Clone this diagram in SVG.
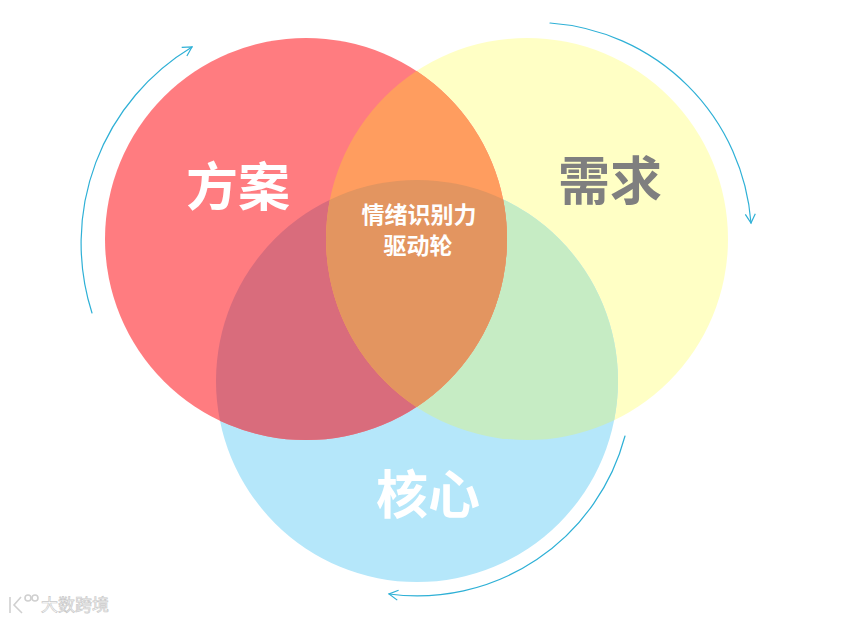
<svg xmlns="http://www.w3.org/2000/svg" width="841" height="621" viewBox="0 0 841 621">
<style>
text{font-family:"Noto Sans CJK SC","Liberation Sans",sans-serif;font-weight:700;text-anchor:middle}
.big{font-size:52px;fill:#fff}
.mid{font-size:23px;fill:#fff}
.arc{fill:none;stroke:#2eb0d6;stroke-width:1.2;stroke-linecap:round;stroke-linejoin:round}
.wm{font-size:17px;font-weight:400;fill:#fff;stroke:#c9c9c9;stroke-width:.7px;text-anchor:start}
.logo{fill:none;stroke:#d0d0d0;stroke-width:1.6}
</style>
<defs>
<marker id="ah" viewBox="0 0 12 12" refX="10" refY="6" markerWidth="12" markerHeight="12" markerUnits="userSpaceOnUse" orient="auto"><path d="M1 1L10 6L1 11" fill="none" stroke="#2eb0d6" stroke-width="1.2"/></marker>
<clipPath id="cr"><circle cx="306" cy="239" r="201"/></clipPath>
<clipPath id="cy"><circle cx="527" cy="239" r="201"/></clipPath>
<clipPath id="cb"><circle cx="417" cy="381" r="201"/></clipPath>
</defs>
<rect width="841" height="621" fill="#fff"/>
<g id="node-yellow"><circle cx="527" cy="239" r="201" fill="#FFFFC5"/></g>
<g id="node-blue"><circle cx="417" cy="381" r="201" fill="#B5E7FA"/></g>
<g id="node-red"><circle cx="306" cy="239" r="201" fill="#FF7C80"/></g>
<g id="overlaps">
<g clip-path="url(#cy)"><circle cx="417" cy="381" r="201" fill="#C6ECC4"/></g>
<g clip-path="url(#cr)"><circle cx="417" cy="381" r="201" fill="#D96C7C"/></g>
<g clip-path="url(#cr)"><circle cx="527" cy="239" r="201" fill="#FF9D5F"/></g>
<g clip-path="url(#cr)"><g clip-path="url(#cy)"><circle cx="417" cy="381" r="201" fill="#E39560"/></g></g>
</g>
<g id="connectors">
<path class="arc" marker-end="url(#ah)" d="M92 313A229 229 0 0 1 192 47"/>
<path class="arc" marker-end="url(#ah)" d="M550 23A217 217 0 0 1 751 223"/>
<path class="arc" marker-end="url(#ah)" d="M625 436A215 215 0 0 1 389 594"/>
</g>
<g id="label-fangan"><text class="big" x="238" y="206">方案</text></g>
<g id="label-xuqiu"><text class="big" x="610" y="200" style="fill:#7f7f7f">需求</text></g>
<g id="label-hexin"><text class="big" x="428" y="514">核心</text></g>
<g id="label-center"><text class="mid" x="419" y="223">情绪识别力</text><text class="mid" x="418" y="254">驱动轮</text></g>
<g id="watermark">
<path class="logo" d="M10 597V613M21 597L14 605L22 613"/>
<circle class="logo" cx="28" cy="598" r="3"/><circle class="logo" cx="35" cy="598" r="3"/>
<text class="wm" x="41" y="611">大数跨境</text>
</g>
</svg>
